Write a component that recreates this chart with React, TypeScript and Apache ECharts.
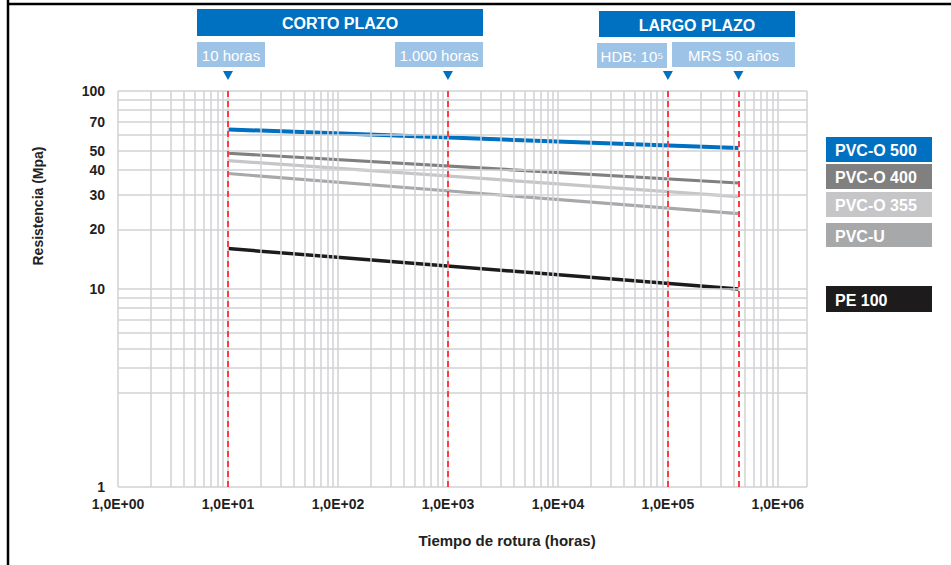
import React, { useEffect, useRef } from 'react';
import * as echarts from 'echarts';

// ---- data ----
const seriesNames = ['PVC-O 500', 'PVC-O 400', 'PVC-O 355', 'PVC-U', 'PE 100'];
const timePoints = [10, 438000];
const pvcO500 = [64, 51.5];
const pvcO400 = [48.5, 34.3];
const pvcO355 = [44.5, 29.3];
const pvcU = [38.3, 24];
const pe100 = [16, 10];
const seriesValues = [pvcO500, pvcO400, pvcO355, pvcU, pe100];
const seriesColors = ['#0070C0', '#808080', '#C6C6C8', '#A7A8AA', '#1E1B1C'];
const seriesWidths = [4, 3.2, 3.2, 3.2, 3.5];

const xTickLabels = ['1,0E+00', '1,0E+01', '1,0E+02', '1,0E+03', '1,0E+04', '1,0E+05', '1,0E+06'];
const yLabelValues = [1, 10, 20, 30, 40, 50, 70, 100];
const yGridValues = [3, 4, 5, 6, 7, 8, 9, 10, 20, 30, 40, 50, 60, 70, 80, 90, 100];
const xGridMultipliers = [1, 2, 3, 4, 5, 6, 7, 8, 9];
const xGridDecades = [1, 10, 100, 1000, 10000, 100000];
const markerTimes = [10, 1000, 100000, 438000];
const markerLabels = ['10 horas', '1.000 horas', 'HDB: 10⁵', 'MRS 50 años'];
const periodLabels = ['CORTO PLAZO', 'LARGO PLAZO'];
const xAxisTitle = 'Tiempo de rotura (horas)';
const yAxisTitle = 'Resistencia (Mpa)';

const FONT = '"Liberation Sans", Arial, sans-serif';

export default function App() {
  const ref = useRef<HTMLDivElement>(null);
  useEffect(() => {
    const chart = echarts.init(ref.current!, null, { renderer: 'svg' });
    const xGridValues: number[] = [];
    xGridDecades.forEach((d) => xGridMultipliers.forEach((m) => xGridValues.push(d * m)));
    xGridValues.push(1000000);

    const option: any = {
      animation: false,
      backgroundColor: '#ffffff',
      textStyle: { fontFamily: FONT },
      grid: { left: 118, right: 144, top: 91, bottom: 78 },
      xAxis: {
        type: 'log',
        logBase: 10,
        min: 1,
        max: 1840000,
        axisLine: { show: false },
        axisTick: { show: false },
        splitLine: { show: false },
        axisLabel: {
          margin: 10,
          color: '#1f1f1f',
          fontWeight: 'bold',
          fontSize: 14,
          fontFamily: FONT,
          formatter: (v: number) => {
            const l = Math.log10(v);
            const n = Math.round(l);
            if (Math.abs(l - n) > 1e-6 || n < 0 || n >= xTickLabels.length) return '';
            return xTickLabels[n];
          },
        },
      },
      yAxis: {
        type: 'log',
        logBase: 10,
        min: 1,
        max: 100,
        axisLine: { show: false },
        axisTick: { show: false },
        splitLine: { show: false },
        axisLabel: {
          customValues: yLabelValues,
          margin: 13,
          color: '#1f1f1f',
          fontWeight: 'bold',
          fontSize: 14,
          fontFamily: FONT,
          formatter: (v: number) => String(Math.round(v)),
        },
      },
      series: [
        {
          name: 'grid',
          type: 'line',
          data: [],
          silent: true,
          z: 1,
          markLine: {
            silent: true,
            symbol: 'none',
            label: { show: false },
            lineStyle: { color: '#D2D2D4', width: 1.5, type: 'solid' },
            data: [
              { yAxis: 1 },
              ...yGridValues.map((v) => ({ yAxis: v })),
              ...xGridValues.map((v) => ({ xAxis: v })),
              { xAxis: 1840000 },
            ],
          },
        },
        ...seriesNames.map((name, i) => ({
          name,
          type: 'line',
          z: 3,
          showSymbol: false,
          symbol: 'none',
          data: timePoints.map((t, k) => [t, seriesValues[i][k]]),
          lineStyle: { color: seriesColors[i], width: seriesWidths[i], cap: 'butt' },
          itemStyle: { color: seriesColors[i] },
        })),
        {
          name: 'marcas',
          type: 'line',
          data: [],
          silent: true,
          z: 5,
          markLine: {
            silent: true,
            symbol: 'none',
            label: { show: false },
            lineStyle: { color: '#FF3B45', width: 2, type: [6, 4] },
            data: markerTimes.map((t) => ({ xAxis: t })),
          },
        },
      ],
    };
    chart.setOption(option);

    const px = (t: number) => (chart.convertToPixel({ gridIndex: 0 } as any, [t, 10]) as number[])[0];

    const textEl = (x: number, y: number, text: string, font: string, fill: string, align = 'center') => ({
      type: 'text',
      x,
      y,
      z: 10,
      style: {
        text,
        fill,
        font,
        textAlign: align,
        textVerticalAlign: 'middle',
        align,
        verticalAlign: 'middle',
      },
    });

    const graphic: any[] = [];
    // frame
    graphic.push({ type: 'line', z: 10, shape: { x1: 8, y1: 0, x2: 8, y2: 565 }, style: { stroke: '#000', lineWidth: 2.5 } });
    graphic.push({ type: 'line', z: 10, shape: { x1: 8, y1: 4, x2: 951, y2: 4 }, style: { stroke: '#000', lineWidth: 2.5 } });

    // period banners
    const periodBoxes = [
      { x: 197, y: 9, w: 286, h: 27 },
      { x: 599, y: 11, w: 196, h: 26 },
    ];
    periodBoxes.forEach((b, i) => {
      graphic.push({ type: 'rect', z: 10, shape: { x: b.x, y: b.y, width: b.w, height: b.h }, style: { fill: '#0070C0' } });
      graphic.push(textEl(b.x + b.w / 2, b.y + b.h / 2 + 1, periodLabels[i], `bold 16px ${FONT}`, '#ffffff'));
    });

    // marker label boxes
    const markerBoxes = [
      { x: 197, y: 42, w: 68, h: 25 },
      { x: 395, y: 42, w: 88, h: 25 },
      { x: 597, y: 43, w: 70, h: 25 },
      { x: 672, y: 42, w: 123, h: 25 },
    ];
    markerBoxes.forEach((b, i) => {
      graphic.push({ type: 'rect', z: 10, shape: { x: b.x, y: b.y, width: b.w, height: b.h }, style: { fill: '#9DC3E6' } });
      graphic.push(textEl(b.x + b.w / 2, b.y + b.h / 2 + 1, markerLabels[i], `15px ${FONT}`, '#ffffff'));
    });

    // triangles
    markerTimes.forEach((t) => {
      const x = px(t);
      graphic.push({
        type: 'polygon',
        z: 10,
        shape: { points: [[x - 5, 71], [x + 5, 71], [x, 80]] },
        style: { fill: '#0070C0' },
      });
    });

    // legend boxes
    const legendBoxes = [
      { y: 137, h: 25 },
      { y: 164, h: 25 },
      { y: 192, h: 25 },
      { y: 223, h: 24 },
      { y: 286, h: 26 },
    ];
    legendBoxes.forEach((b, i) => {
      graphic.push({ type: 'rect', z: 10, shape: { x: 826, y: b.y, width: 106, height: b.h }, style: { fill: seriesColors[i] } });
      graphic.push(textEl(835, b.y + b.h / 2 + 1, seriesNames[i], `bold 16px ${FONT}`, '#ffffff', 'left'));
    });

    // axis titles
    graphic.push(textEl(507, 540, xAxisTitle, `bold 15px ${FONT}`, '#222222'));
    graphic.push({
      type: 'text',
      x: 38,
      y: 206,
      rotation: Math.PI / 2,
      z: 10,
      style: {
        text: yAxisTitle,
        fill: '#222222',
        font: `bold 14px ${FONT}`,
        textAlign: 'center',
        textVerticalAlign: 'middle',
        align: 'center',
        verticalAlign: 'middle',
      },
    });

    chart.setOption({ graphic });
    return () => chart.dispose();
  }, []);
  return (
    <div
      ref={ref}
      style={{ position: 'fixed', left: 0, top: 0, width: 951, height: 565, background: '#fff' }}
    />
  );
}
